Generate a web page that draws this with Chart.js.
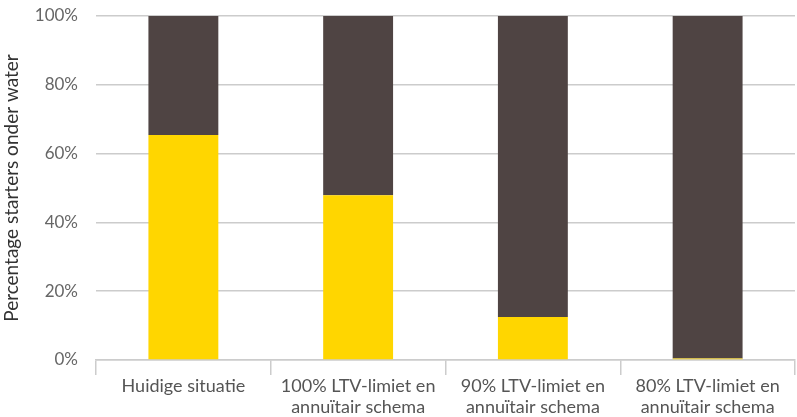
<!DOCTYPE html>
<html>
<head>
<meta charset="utf-8">
<script src="https://cdn.jsdelivr.net/npm/chart.js@4/dist/chart.umd.min.js"></script>
<style>
  html, body { margin: 0; padding: 0; background: #fff; }
  #wrap { width: 797px; height: 417px; }
</style>
</head>
<body>
<div id="wrap"><canvas id="myChart"></canvas></div>
<script>
const labels = [
  'Huidige situatie',
  ['100% LTV-limiet en', 'annuïtair schema'],
  ['90% LTV-limiet en', 'annuïtair schema'],
  ['80% LTV-limiet en', 'annuïtair schema']
];
const onderWater = [65.4, 47.9, 12.5, 0.4];
const bovenWater = [34.6, 52.1, 87.5, 99.6];
const yTicks = [0, 20, 40, 60, 80, 100];

const data = {
  labels: labels,
  datasets: [{
    label: 'Onder water',
    data: onderWater,
    backgroundColor: '#FFD600',
    barPercentage: 0.4,
    categoryPercentage: 1
  },
  {
    label: 'Niet onder water',
    data: bovenWater,
    backgroundColor: '#4F4443',
    barPercentage: 0.4,
    categoryPercentage: 1
  }]
};

const config = {
  type: 'bar',
  data: data,
  options: {
    responsive: true,
    maintainAspectRatio: false,
    animation: false,
    layout: { padding: { top: 16, right: 2, left: 0, bottom: 0 } },
    plugins: {
      legend: { display: false },
      tooltip: { enabled: false }
    },
    scales: {
      x: {
        stacked: true,
        afterFit: (axis) => { axis.height = 57; },
        grid: {
          display: true,
          drawOnChartArea: false,
          drawTicks: true,
          tickLength: 15,
          color: '#cccccc',
          lineWidth: 1.5
        },
        border: { display: true, color: '#cccccc', width: 1.5 },
        ticks: {
          color: '#555555',
          font: { family: 'Lato', size: 18, lineHeight: 1.2 },
          padding: 0,
          maxRotation: 0,
          autoSkip: false
        }
      },
      y: {
        stacked: true,
        min: 0,
        max: 100,
        afterBuildTicks: (axis) => { axis.ticks = yTicks.map(v => ({ value: v })); },
        afterFit: (axis) => {
          axis.width = 96;
          axis.paddingTop = 0;
        },
        grid: {
          color: '#cccccc',
          lineWidth: 1.5,
          drawTicks: false
        },
        border: { display: false },
        ticks: {
          color: '#666666',
          font: { family: 'Lato', size: 17 },
          padding: 18,
          callback: (v) => v + '%'
        },
        title: {
          display: true,
          text: 'Percentage starters onder water',
          color: '#333333',
          font: { family: 'Lato', size: 19 },
          padding: { top: 0, bottom: 2 }
        }
      }
    }
  }
};

const myChart = new Chart(
  document.getElementById('myChart'),
  config
);
</script>
</body>
</html>
